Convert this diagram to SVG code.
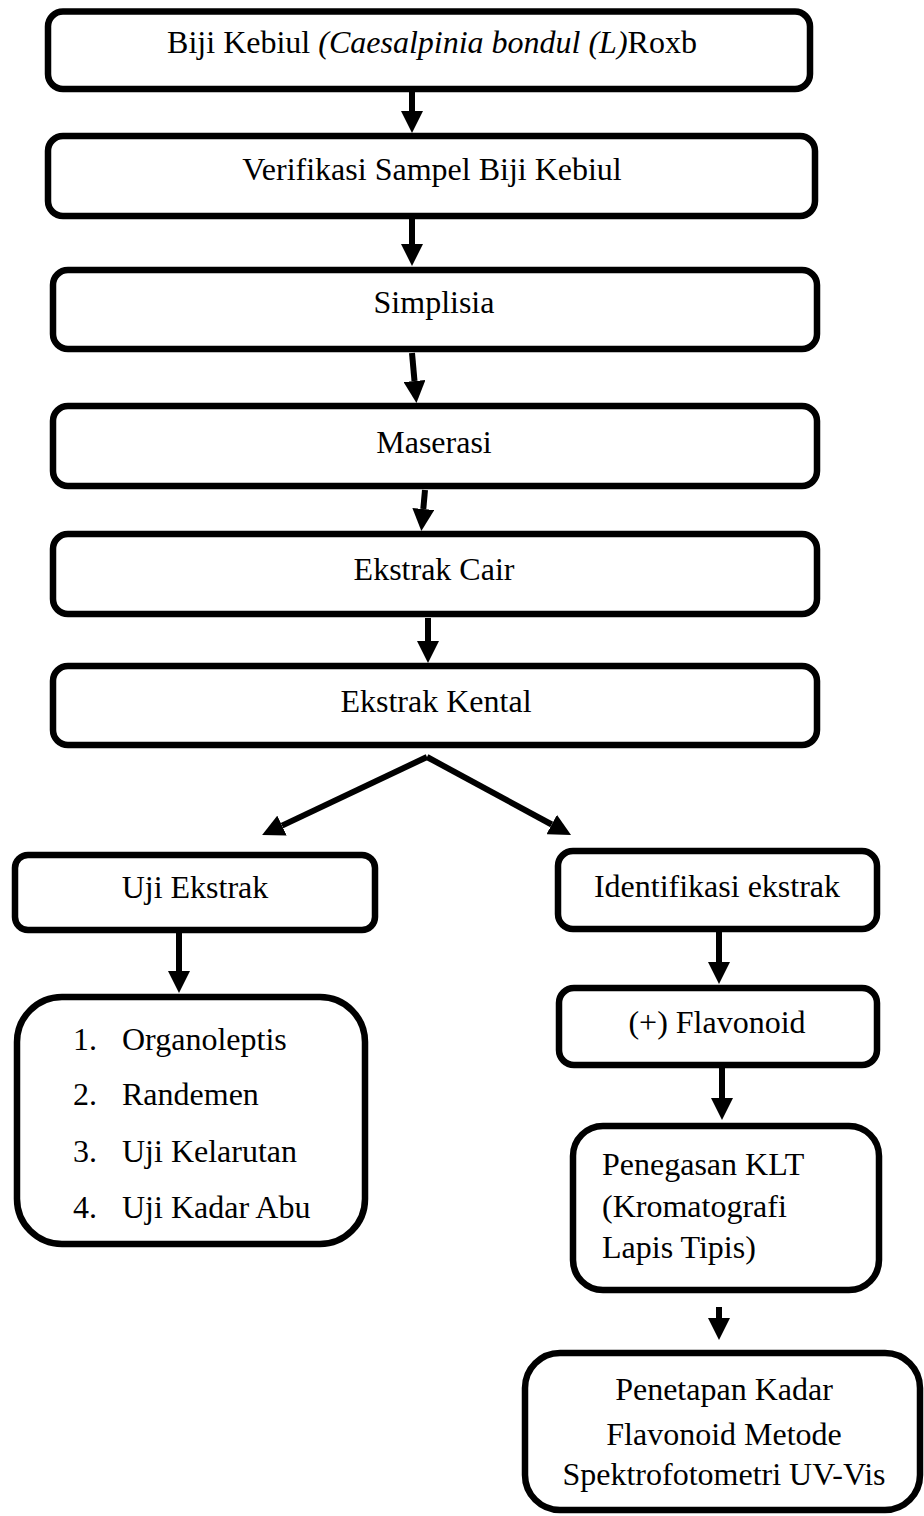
<svg xmlns="http://www.w3.org/2000/svg" width="924" height="1516" viewBox="0 0 924 1516">
<style>
.box{fill:#fff;stroke:#000;stroke-width:6.5}
.t{font-family:"Liberation Serif","Times New Roman",serif;font-size:32px;fill:#000}
.c{text-anchor:middle}
.con line{stroke:#000;stroke-width:6}
</style>
<defs>
<marker id="ah" markerUnits="userSpaceOnUse" markerWidth="22" markerHeight="22" refX="0" refY="11" orient="auto" viewBox="0 0 22 22">
<path d="M0,0 L22,11 L0,22 z" fill="#000"/>
</marker>
</defs>
<rect width="924" height="1516" fill="#fff"/>
<g id="n1"><rect class="box" x="48" y="11.5" width="762" height="77.5" rx="15"/>
<text class="t c" x="432" y="53">Biji Kebiul <tspan font-style="italic">(Caesalpinia bondul (L)</tspan>Roxb</text></g>
<g id="n2"><rect class="box" x="48" y="136" width="767" height="80" rx="15"/>
<text class="t c" x="432" y="180">Verifikasi Sampel Biji Kebiul</text></g>
<g id="n3"><rect class="box" x="53" y="270" width="764" height="79" rx="15"/>
<text class="t c" x="434" y="313">Simplisia</text></g>
<g id="n4"><rect class="box" x="53" y="406" width="764" height="80" rx="15"/>
<text class="t c" x="434" y="453">Maserasi</text></g>
<g id="n5"><rect class="box" x="53" y="534" width="764" height="80" rx="15"/>
<text class="t c" x="434" y="580">Ekstrak Cair</text></g>
<g id="n6"><rect class="box" x="53" y="666" width="764" height="79" rx="15"/>
<text class="t c" x="436" y="712">Ekstrak Kental</text></g>
<g id="n7"><rect class="box" x="15" y="855" width="360" height="75" rx="13"/>
<text class="t c" x="195" y="898">Uji Ekstrak</text></g>
<g id="n8"><rect class="box" x="17" y="997" width="348" height="247" rx="45"/>
<text class="t" x="73" y="1050">1.</text><text class="t" x="122" y="1050">Organoleptis</text>
<text class="t" x="73" y="1105">2.</text><text class="t" x="122" y="1105">Randemen</text>
<text class="t" x="73" y="1162">3.</text><text class="t" x="122" y="1162">Uji Kelarutan</text>
<text class="t" x="73" y="1218">4.</text><text class="t" x="122" y="1218">Uji Kadar Abu</text></g>
<g id="n9"><rect class="box" x="558" y="851" width="319" height="78" rx="15"/>
<text class="t c" x="717" y="897">Identifikasi ekstrak</text></g>
<g id="n10"><rect class="box" x="559" y="988" width="318" height="77" rx="15"/>
<text class="t c" x="717" y="1033">(+) Flavonoid</text></g>
<g id="n11"><rect class="box" x="573" y="1126" width="306" height="164" rx="30"/>
<text class="t" x="602" y="1175">Penegasan KLT</text>
<text class="t" x="602" y="1217">(Kromatografi</text>
<text class="t" x="602" y="1258">Lapis Tipis)</text></g>
<g id="n12"><rect class="box" x="525" y="1353" width="395" height="157" rx="35"/>
<text class="t c" x="724" y="1400">Penetapan Kadar</text>
<text class="t c" x="724" y="1445">Flavonoid Metode</text>
<text class="t c" x="724" y="1485">Spektrofotometri UV-Vis</text></g>
<g id="connectors" class="con">
<line x1="412" y1="92" x2="412" y2="111" marker-end="url(#ah)"/>
<line x1="412" y1="219" x2="412" y2="244" marker-end="url(#ah)"/>
<line x1="412" y1="353" x2="414.5" y2="381" marker-end="url(#ah)"/>
<line x1="425" y1="490" x2="423.3" y2="509" marker-end="url(#ah)"/>
<line x1="428" y1="618" x2="428" y2="641" marker-end="url(#ah)"/>
<line x1="427" y1="757" x2="282" y2="825.6" marker-end="url(#ah)"/>
<line x1="427" y1="757" x2="551.7" y2="824.5" marker-end="url(#ah)"/>
<line x1="179" y1="933" x2="179" y2="971" marker-end="url(#ah)"/>
<line x1="719" y1="932" x2="719" y2="962" marker-end="url(#ah)"/>
<line x1="722" y1="1068" x2="722" y2="1098" marker-end="url(#ah)"/>
<line x1="719" y1="1307" x2="719" y2="1318" marker-end="url(#ah)"/>
</g>
</svg>
